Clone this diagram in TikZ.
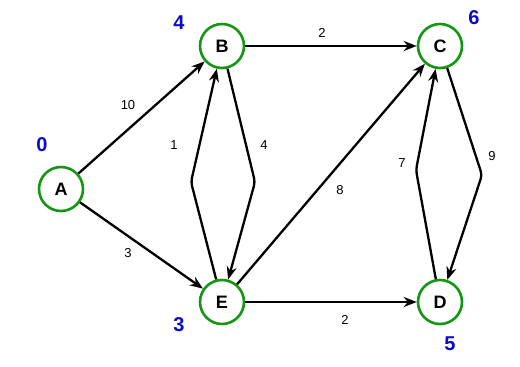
\documentclass[tikz,border=0pt]{standalone}
\usepackage{fontspec}
\setmainfont{Liberation Sans}
\usepackage{xcolor}
\usetikzlibrary{arrows.meta,positioning}
\definecolor{vgreen}{RGB}{20,150,20}
\definecolor{dblue}{RGB}{10,10,205}

\begin{document}
\begin{tikzpicture}[
    x=1pt,y=-1pt,
    vertex/.style={circle,draw=vgreen,line width=2.6pt,fill=white,minimum size=44pt,inner sep=0pt,font=\fontsize{18}{18}\selectfont\bfseries},
    dist/.style={text=dblue,font=\fontsize{20}{20}\selectfont\bfseries,inner sep=0pt},
    weight/.style={font=\fontsize{13}{13}\selectfont,inner sep=0pt},
    arrow/.style={-{Stealth[length=13pt,width=10pt]},line width=2.3pt,rounded corners=4pt}
  ]
    \useasboundingbox (0,0) rectangle (520,367);
    \node[vertex] (A) at (61,189) {A};
    \node[vertex] (B) at (222,46) {B};
    \node[vertex] (C) at (440,46) {C};
    \node[vertex] (E) at (222,302) {E};
    \node[vertex] (D) at (440,302) {D};
    % distances
    \node[dist] (dA) at (42,145) {0};
    \node[dist] (dB) at (179,23) {4};
    \node[dist] (dC) at (474,18) {6};
    \node[dist] (dE) at (179,325) {3};
    \node[dist] (dD) at (450,344) {5};
    % edges
    \draw[arrow] (A) -- (B);
    \draw[arrow] (A) -- (E);
    \draw[arrow] (B) -- (C);
    \draw[arrow] (B) -- (255,182) -- (E);
    \draw[arrow] (E) -- (191,182) -- (B);
    \draw[arrow] (E) -- (C);
    \draw[arrow] (E) -- (D);
    \draw[arrow] (D) -- (416,170) -- (C);
    \draw[arrow] (C) -- (482,175) -- (D);
    % weights
    \node[weight] (wAB) at (128,105) {10};
    \node[weight] (wAE) at (128,253) {3};
    \node[weight] (wBC) at (322,33) {2};
    \node[weight] (wEB) at (174,145) {1};
    \node[weight] (wBE) at (264,145) {4};
    \node[weight] (wEC) at (340,190) {8};
    \node[weight] (wDC) at (402,163) {7};
    \node[weight] (wCD) at (492,156) {9};
    \node[weight] (wED) at (345,320) {2};
  \end{tikzpicture}
\end{document}
